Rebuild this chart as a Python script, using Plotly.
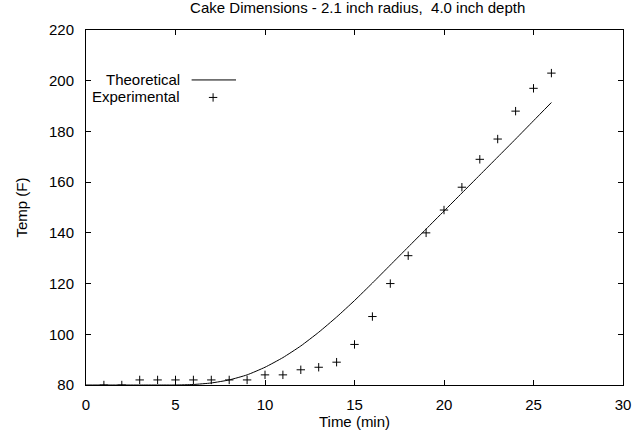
import plotly.graph_objects as go

title_text = "Cake Dimensions - 2.1 inch radius,  4.0 inch depth"

# Theoretical curve
theo_time = [0, 1, 2, 3, 4, 5, 6, 7, 8, 9, 10, 11, 12, 13, 14, 15, 16, 17, 18, 19, 20, 21, 22, 23, 24, 25, 26]
theo_temp = [80, 80, 80, 80, 80, 80, 80.2, 80.8, 82, 84, 87, 90.8, 95.4, 100.8, 106.8, 113.3, 120.2, 127.3,
             134.4, 141.5, 148.6, 155.7, 162.8, 169.9, 177.0, 184.2, 191.4]

# Experimental points
exp_time = list(range(1, 27))
exp_temp = [80, 80, 82, 82, 82, 82, 82, 82, 82, 84, 84, 86, 87, 89, 96, 107, 120, 131, 140, 149,
            158, 169, 177, 188, 197, 203]

x_ticks = [0, 5, 10, 15, 20, 25, 30]
y_ticks = [80, 100, 120, 140, 160, 180, 200, 220]

FONT = "Liberation Sans, Arial, sans-serif"
FS = 15

fig = go.Figure()
fig.add_trace(go.Scatter(x=theo_time, y=theo_temp, mode="lines", name="Theoretical",
                         line=dict(color="black", width=1, shape="spline", smoothing=0.5)))
fig.add_trace(go.Scatter(x=exp_time, y=exp_temp, mode="markers", name="Experimental",
                         marker=dict(symbol="cross-thin", size=6, color="black",
                                     line=dict(color="black", width=1))))

axis_common = dict(showline=True, mirror="allticks", linecolor="black", linewidth=1,
                   ticks="inside", ticklen=5, tickcolor="black", tickwidth=1,
                   showgrid=False, zeroline=False, automargin=False,
                   tickfont=dict(family=FONT, size=FS, color="black"))

fig.update_xaxes(range=[0, 30], tickvals=x_ticks, ticklabelstandoff=6,
                 title=dict(text="Time (min)", font=dict(family=FONT, size=FS, color="black"), standoff=2),
                 **axis_common)
fig.update_yaxes(range=[80, 220], tickvals=y_ticks, ticklabelstandoff=8,
                 title=dict(text="Temp (F)", font=dict(family=FONT, size=FS, color="black"), standoff=17),
                 **axis_common)

# gnuplot-style key: text on left, sample on right
fig.add_annotation(xref="x", yref="y", x=5.3, y=200.6, text="Theoretical", showarrow=False, borderpad=0,
                   xanchor="right", yanchor="middle", font=dict(family=FONT, size=FS, color="black"))
fig.add_annotation(xref="x", yref="y", x=5.3, y=193.6, text="Experimental", showarrow=False, borderpad=0,
                   xanchor="right", yanchor="middle", font=dict(family=FONT, size=FS, color="black"))
fig.add_shape(type="line", xref="x", yref="y", x0=5.9, x1=8.38, y0=200.3, y1=200.3,
              line=dict(color="black", width=1))
fig.add_trace(go.Scatter(x=[7.1], y=[193.4], mode="markers", showlegend=False, hoverinfo="skip",
                         marker=dict(symbol="cross-thin", size=6, color="black",
                                     line=dict(color="black", width=1))))

fig.update_layout(
    width=632, height=444,
    margin=dict(l=86, r=9, t=30, b=59, autoexpand=False),
    paper_bgcolor="white", plot_bgcolor="white",
    showlegend=False,
    font=dict(family=FONT, size=FS, color="black"),
    title=dict(text=title_text, x=0.566, xanchor="center", y=0.982, yanchor="middle",
               font=dict(family=FONT, size=FS, color="black")),
)

fig.write_html("out.html", config={"displayModeBar": False},
               post_script="document.body.style.margin='0';document.body.style.overflow='hidden';")
